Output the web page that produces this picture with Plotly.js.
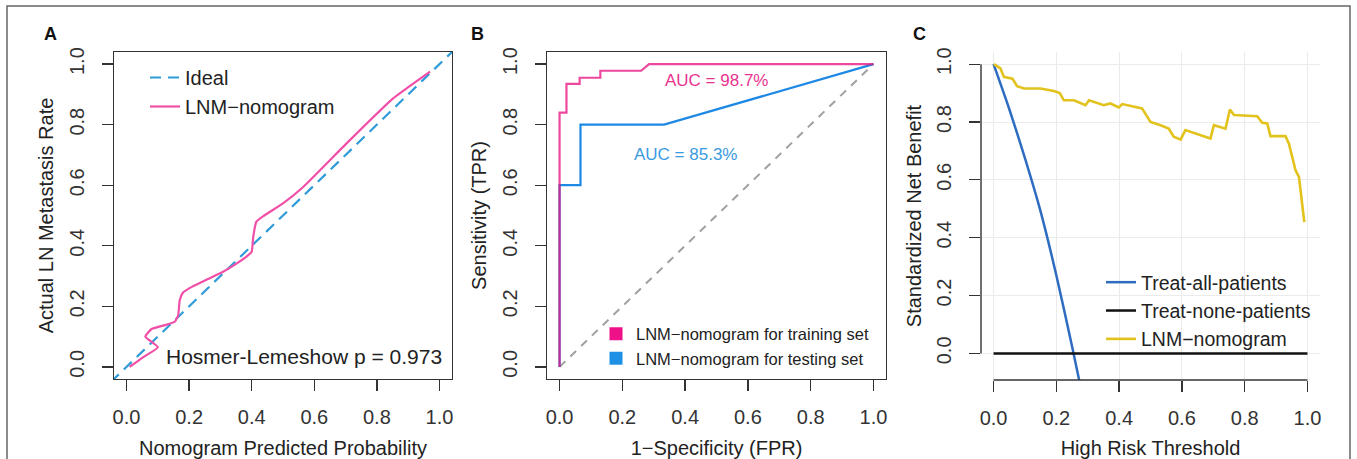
<!DOCTYPE html>
<html>
<head>
<meta charset="utf-8">
<script src="https://cdn.plot.ly/plotly-3.0.1.min.js"></script>
<style>html,body{margin:0;padding:0;background:#fff;}#chart{width:1357px;height:459px;}</style>
</head>
<body>
<div id="chart"></div>
<script>
// ---------- Panel A: calibration ----------
const idealX = [-0.05, 1.05];
const idealY = [-0.05, 1.05];
const calibX = [0.01, 0.05, 0.10, 0.06, 0.08, 0.13, 0.155, 0.165, 0.17, 0.18, 0.21, 0.26, 0.31, 0.35, 0.39, 0.40, 0.405, 0.415, 0.44, 0.50, 0.56, 0.70, 0.85, 0.97];
const calibY = [0.00, 0.03, 0.065, 0.10, 0.125, 0.14, 0.15, 0.17, 0.22, 0.245, 0.265, 0.29, 0.315, 0.34, 0.37, 0.38, 0.43, 0.48, 0.50, 0.54, 0.59, 0.735, 0.885, 0.975];
const hlText = "Hosmer-Lemeshow p = 0.973";

// ---------- Panel B: ROC ----------
const trainFPR = [0, 0, 0.022, 0.022, 0.064, 0.064, 0.13, 0.13, 0.26, 0.285, 1];
const trainTPR = [0, 0.84, 0.84, 0.935, 0.935, 0.955, 0.955, 0.978, 0.978, 1, 1];
const testFPR = [0, 0, 0.0667, 0.0667, 0.333, 1];
const testTPR = [0, 0.6, 0.6, 0.8, 0.8, 1];
const chanceX = [0, 1];
const chanceY = [0, 1];
const aucTrain = "AUC = 98.7%";
const aucTest = "AUC = 85.3%";

// ---------- Panel C: decision curve ----------
const thrNomo = [0.001, 0.022, 0.033, 0.06, 0.075, 0.097, 0.15, 0.192, 0.211, 0.224, 0.256, 0.293, 0.304, 0.351, 0.372, 0.399, 0.41, 0.473, 0.5, 0.532, 0.558, 0.574, 0.596, 0.611, 0.691, 0.702, 0.739, 0.753, 0.766, 0.84, 0.856, 0.872, 0.882, 0.93, 0.941, 0.962, 0.973, 0.99];
const nbNomo = [1.0, 0.985, 0.956, 0.95, 0.924, 0.916, 0.916, 0.907, 0.90, 0.875, 0.875, 0.858, 0.875, 0.858, 0.864, 0.85, 0.862, 0.847, 0.80, 0.789, 0.777, 0.749, 0.739, 0.772, 0.743, 0.789, 0.777, 0.843, 0.824, 0.82, 0.797, 0.795, 0.751, 0.751, 0.725, 0.633, 0.61, 0.454];
const thrAll = [0, 0.05, 0.10, 0.15, 0.20, 0.25, 0.28];
const nbAll = [1.0, 0.845, 0.675, 0.49, 0.27, 0.025, -0.13];
const thrNone = [0, 1];
const nbNone = [0, 0];

const ticks = [0, 0.2, 0.4, 0.6, 0.8, 1.0];
const tickLabels = ["0.0", "0.2", "0.4", "0.6", "0.8", "1.0"];
const panelLetters = ["A", "B", "C"];

const FONT = "Liberation Sans, Arial, Helvetica, sans-serif";
const W = 1357, H = 459;
const px = v => v / W;
const py = v => 1 - v / H;

const traces = [
  // A
  {x: idealX, y: idealY, xaxis: 'x', yaxis: 'y', mode: 'lines', name: 'Ideal', legend: 'legend',
   line: {color: '#2F9BD8', width: 2.2, dash: '11px,7px'}},
  {x: calibX, y: calibY, xaxis: 'x', yaxis: 'y', mode: 'lines', name: 'LNM\u2212nomogram', legend: 'legend',
   line: {color: '#F04FA8', width: 2.2, shape: 'spline', smoothing: 0.4}},
  // B
  {x: chanceX, y: chanceY, xaxis: 'x2', yaxis: 'y2', mode: 'lines', showlegend: false,
   line: {color: '#A0A0A0', width: 2, dash: '8px,7px'}},
  {x: testFPR, y: testTPR, xaxis: 'x2', yaxis: 'y2', mode: 'lines', showlegend: false,
   line: {color: '#1E88E5', width: 2.2}},
  {x: trainFPR, y: trainTPR, xaxis: 'x2', yaxis: 'y2', mode: 'lines', showlegend: false,
   line: {color: 'rgba(232,20,130,0.78)', width: 2.2}},
  {x: [null], y: [null], xaxis: 'x2', yaxis: 'y2', mode: 'markers', name: 'LNM\u2212nomogram for training set', legend: 'legend2',
   marker: {symbol: 'square', size: 13, color: '#EE1188'}},
  {x: [null], y: [null], xaxis: 'x2', yaxis: 'y2', mode: 'markers', name: 'LNM\u2212nomogram for testing set', legend: 'legend2',
   marker: {symbol: 'square', size: 13, color: '#1E90E6'}},
  // C
  {x: thrAll, y: nbAll, xaxis: 'x3', yaxis: 'y3', mode: 'lines', name: 'Treat-all-patients', legend: 'legend3',
   line: {color: '#2D6CC0', width: 2.5, shape: 'spline', smoothing: 0.6}},
  {x: thrNone, y: nbNone, xaxis: 'x3', yaxis: 'y3', mode: 'lines', name: 'Treat-none-patients', legend: 'legend3',
   line: {color: '#111111', width: 2.5}},
  {x: thrNomo, y: nbNomo, xaxis: 'x3', yaxis: 'y3', mode: 'lines', name: 'LNM\u2212nomogram', legend: 'legend3',
   line: {color: '#E2C21C', width: 2.6}}
];

function axisBase(extra, isY) {
  return Object.assign({
    tickmode: 'array', tickvals: ticks, ticktext: tickLabels,
    ticks: 'outside', ticklen: 11, tickwidth: 1.3, tickcolor: '#333',
    tickfont: {family: FONT, size: 20, color: '#333'},
    ticklabelstandoff: isY ? 10 : 9,
    showgrid: false, zeroline: false, automargin: false,
    showline: true, mirror: true, linecolor: '#333', linewidth: 1.4
  }, extra);
}
function ttl(t, s) { return {text: t, font: {family: FONT, size: 20, color: '#222'}, standoff: s}; }

const yDom = [1 - 379 / H, 1 - 52 / H];
const yDomC = [1 - 380 / H, 1 - 52 / H];

const letterPos = [50, 477, 919];
const letterAnn = panelLetters.map((L, i) => ({
  text: '<b>' + L + '</b>', xref: 'paper', yref: 'paper', x: px(letterPos[i]), y: py(34),
  xanchor: 'center', yanchor: 'middle', showarrow: false, font: {family: FONT, size: 18, color: '#111'}
}));

const layout = {
  width: W, height: H,
  margin: {l: 0, r: 0, t: 0, b: 0},
  paper_bgcolor: '#fff', plot_bgcolor: '#fff',
  font: {family: FONT, color: '#222'},
  showlegend: true,
  xaxis: axisBase({domain: [px(114), px(452)], range: [-0.04, 1.04], anchor: 'y',
    title: ttl('Nomogram Predicted Probability', 14)}, false),
  yaxis: axisBase({domain: yDom, range: [-0.04, 1.04], anchor: 'x', tickangle: -90,
    title: ttl('Actual LN Metastasis Rate', 6)}, true),
  xaxis2: axisBase({domain: [px(547), px(886)], range: [-0.04, 1.04], anchor: 'y2',
    title: ttl('1\u2212Specificity (FPR)', 14)}, false),
  yaxis2: axisBase({domain: yDom, range: [-0.04, 1.04], anchor: 'x2', tickangle: -90,
    title: ttl('Sensitivity (TPR)', 6)}, true),
  xaxis3: axisBase({domain: [px(981), px(1320)], range: [-0.04, 1.04], anchor: 'y3',
    showline: false, mirror: false, showgrid: true, gridcolor: '#EBEBEB', gridwidth: 1,
    title: ttl('High Risk Threshold', 14)}, false),
  yaxis3: axisBase({domain: yDomC, range: [-0.092, 1.042], anchor: 'x3', tickangle: -90,
    showline: false, mirror: false, showgrid: true, gridcolor: '#EBEBEB', gridwidth: 1,
    title: ttl('Standardized Net Benefit', 6)}, true),
  legend: {x: px(145), y: py(58), xanchor: 'left', yanchor: 'top', bgcolor: 'rgba(0,0,0,0)',
    font: {family: FONT, size: 20, color: '#222'}, itemwidth: 30},
  legend2: {x: px(596), y: py(346), xanchor: 'left', yanchor: 'middle', bgcolor: 'rgba(0,0,0,0)',
    font: {family: FONT, size: 16.5, color: '#222'}, itemwidth: 30},
  legend3: {x: px(1101), y: py(311), xanchor: 'left', yanchor: 'middle', bgcolor: 'rgba(0,0,0,0)',
    font: {family: FONT, size: 19.5, color: '#222'}, itemwidth: 30},
  annotations: letterAnn.concat([
    {text: hlText, xref: 'x', yref: 'y', x: 1.015, y: 0.033, xanchor: 'right', yanchor: 'middle', showarrow: false,
     font: {family: FONT, size: 21, color: '#222'}},
    {text: aucTrain, xref: 'x2', yref: 'y2', x: 0.5, y: 0.947, showarrow: false, font: {family: FONT, size: 17, color: '#E8338F'}},
    {text: aucTest, xref: 'x2', yref: 'y2', x: 0.4, y: 0.70, showarrow: false, font: {family: FONT, size: 17, color: '#3A9AE0'}}
  ]),
  shapes: [
    {type: 'rect', xref: 'paper', yref: 'paper', x0: px(7), x1: px(1350), y0: -0.2, y1: py(6),
     line: {color: '#666', width: 1.5}, fillcolor: 'rgba(0,0,0,0)', layer: 'below'},
    {type: 'line', xref: 'x3 domain', yref: 'y3', x0: 0, x1: 0, y0: 0, y1: 1, line: {color: '#333', width: 1.4}},
    {type: 'line', xref: 'x3', yref: 'y3 domain', x0: 0, x1: 1, y0: 0, y1: 0, line: {color: '#333', width: 1.4}}
  ]
};

Plotly.newPlot('chart', traces, layout, {staticPlot: true, displayModeBar: false});
</script>
</body>
</html>
